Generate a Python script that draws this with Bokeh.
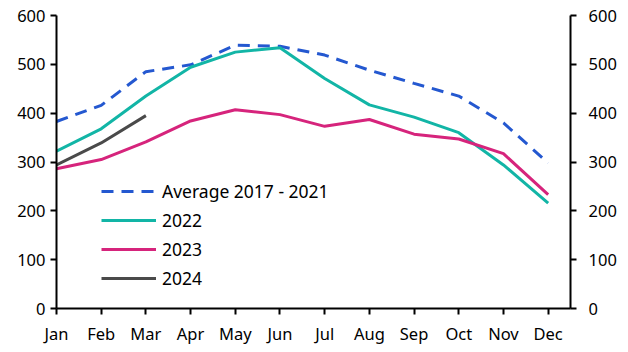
from bokeh.plotting import figure
from bokeh.models import Range1d, LinearAxis, FixedTicker, Legend, LegendItem
from bokeh.embed import file_html
from bokeh.resources import INLINE

months = ["Jan", "Feb", "Mar", "Apr", "May", "Jun", "Jul", "Aug", "Sep", "Oct", "Nov", "Dec"]
avg_2017_2021 = [383, 416, 485, 499, 539, 537, 519, 488, 461, 435, 380, 298]
y2022 = [322, 368, 435, 494, 525, 534, 471, 417, 392, 360, 294, 216]
y2023 = [286, 305, 341, 384, 407, 397, 373, 387, 357, 347, 317, 233]
y2024 = [294, 339, 395]
y_ticks = [0, 100, 200, 300, 400, 500, 600]

FONT = "Noto Sans"
FS = "16.5px"
FS_LEG = "17.5px"

x_all = list(range(len(months)))

p = figure(width=628, height=352, output_backend="svg", toolbar_location=None,
           x_range=Range1d(0, 11.5), y_range=Range1d(0, 600),
           min_border_left=56, min_border_right=58, min_border_top=15, min_border_bottom=44)
p.outline_line_color = None
p.xgrid.visible = False
p.ygrid.visible = False
p.background_fill_color = "white"
p.border_fill_color = "white"

r_avg = p.line(x_all, avg_2017_2021, line_color="#2458D0", line_width=3, line_dash="12 8")
r22 = p.line(x_all, y2022, line_color="#12B5A6", line_width=3)
r23 = p.line(x_all, y2023, line_color="#D6247C", line_width=3)
r24 = p.line(x_all[:len(y2024)], y2024, line_color="#4A4A4A", line_width=3)

def style(ax):
    ax.axis_line_width = 2
    ax.axis_line_color = "black"
    ax.major_tick_line_width = 2
    ax.major_tick_line_color = "black"
    ax.major_tick_out = 6
    ax.major_tick_in = 0
    ax.minor_tick_line_color = None
    ax.major_label_text_font = FONT
    ax.major_label_text_font_size = FS
    ax.major_label_text_color = "black"

xa = p.xaxis[0]
style(xa)
xa.ticker = FixedTicker(ticks=x_all)
xa.major_label_overrides = {i: m for i, m in enumerate(months)}
xa.major_label_standoff = 7

ya = p.yaxis[0]
style(ya)
ya.ticker = FixedTicker(ticks=y_ticks)
ya.major_label_standoff = 5

ra = LinearAxis(ticker=FixedTicker(ticks=y_ticks))
style(ra)
ra.major_label_standoff = 12
p.add_layout(ra, "right")

legend = Legend(items=[
    LegendItem(label="Average 2017 - 2021", renderers=[r_avg]),
    LegendItem(label="2022", renderers=[r22]),
    LegendItem(label="2023", renderers=[r23]),
    LegendItem(label="2024", renderers=[r24]),
], location=(45, 17))
legend.glyph_width = 55
legend.glyph_height = 26
legend.label_height = 26
legend.spacing = 3
legend.padding = 0
legend.margin = 0
legend.label_standoff = 6
legend.label_text_font = FONT
legend.label_text_font_size = FS_LEG
legend.label_text_color = "black"
legend.border_line_color = None
legend.background_fill_alpha = 0
p.add_layout(legend, "center")

open("out.html", "w").write(file_html(p, INLINE))
